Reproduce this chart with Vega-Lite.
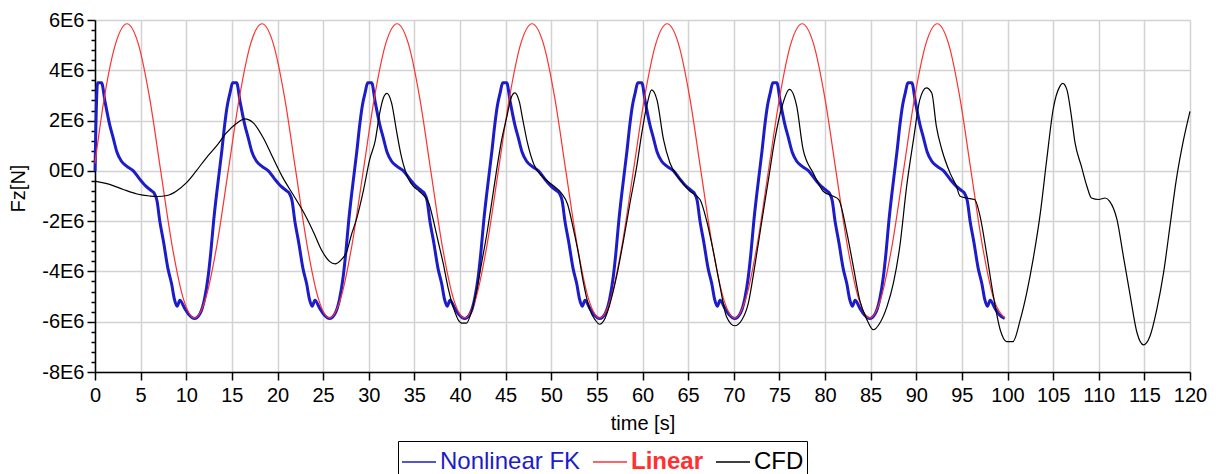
{
  "$schema": "https://vega.github.io/schema/vega-lite/v6.json",
  "autosize": {"type": "none"},
  "width": 1095,
  "height": 352,
  "padding": {"left": 95, "top": 20, "right": 28, "bottom": 102},
  "background": "white",
  "config": {
    "font": "Liberation Sans",
    "view": {"stroke": null},
    "axis": {"labelFont": "Liberation Sans", "titleFont": "Liberation Sans", "titleFontWeight": "normal", "labelColor": "#000", "titleColor": "#000"}
  },
  "data": {"values": [
    {"series":"Nonlinear FK","time":0,"Fz":0},{"series":"Nonlinear FK","time":0.28,"Fz":3500000},{"series":"Nonlinear FK","time":0.72,"Fz":3500000},{"series":"Nonlinear FK","time":1.1,"Fz":2750000},{"series":"Nonlinear FK","time":1.6,"Fz":1850000},{"series":"Nonlinear FK","time":2.0,"Fz":1300000},{"series":"Nonlinear FK","time":2.4,"Fz":750000},{"series":"Nonlinear FK","time":2.9,"Fz":380000},{"series":"Nonlinear FK","time":3.5,"Fz":180000},{"series":"Nonlinear FK","time":4.2,"Fz":0},{"series":"Nonlinear FK","time":4.9,"Fz":-330000},{"series":"Nonlinear FK","time":5.6,"Fz":-620000},{"series":"Nonlinear FK","time":6.2,"Fz":-800000},{"series":"Nonlinear FK","time":6.5,"Fz":-900000},{"series":"Nonlinear FK","time":6.8,"Fz":-1200000},{"series":"Nonlinear FK","time":7.1,"Fz":-2000000},{"series":"Nonlinear FK","time":7.5,"Fz":-2800000},{"series":"Nonlinear FK","time":8.0,"Fz":-3900000},{"series":"Nonlinear FK","time":8.4,"Fz":-4500000},{"series":"Nonlinear FK","time":8.7,"Fz":-5100000},{"series":"Nonlinear FK","time":9.0,"Fz":-5380000},{"series":"Nonlinear FK","time":9.3,"Fz":-5150000},{"series":"Nonlinear FK","time":9.8,"Fz":-5450000},{"series":"Nonlinear FK","time":10.3,"Fz":-5720000},{"series":"Nonlinear FK","time":10.9,"Fz":-5870000},{"series":"Nonlinear FK","time":11.5,"Fz":-5680000},{"series":"Nonlinear FK","time":12.0,"Fz":-5100000},{"series":"Nonlinear FK","time":12.4,"Fz":-4200000},{"series":"Nonlinear FK","time":12.7,"Fz":-3200000},{"series":"Nonlinear FK","time":13.0,"Fz":-2000000},{"series":"Nonlinear FK","time":13.3,"Fz":-1000000},{"series":"Nonlinear FK","time":13.6,"Fz":-100000},{"series":"Nonlinear FK","time":13.9,"Fz":800000},{"series":"Nonlinear FK","time":14.2,"Fz":1800000},{"series":"Nonlinear FK","time":14.5,"Fz":2600000},{"series":"Nonlinear FK","time":14.8,"Fz":3100000},
    {"series":"Nonlinear FK","time":15.08,"Fz":3500000},{"series":"Nonlinear FK","time":15.52,"Fz":3500000},{"series":"Nonlinear FK","time":15.9,"Fz":2750000},{"series":"Nonlinear FK","time":16.4,"Fz":1850000},{"series":"Nonlinear FK","time":16.8,"Fz":1300000},{"series":"Nonlinear FK","time":17.2,"Fz":750000},{"series":"Nonlinear FK","time":17.7,"Fz":380000},{"series":"Nonlinear FK","time":18.3,"Fz":180000},{"series":"Nonlinear FK","time":19.0,"Fz":0},{"series":"Nonlinear FK","time":19.7,"Fz":-330000},{"series":"Nonlinear FK","time":20.4,"Fz":-620000},{"series":"Nonlinear FK","time":21.0,"Fz":-800000},{"series":"Nonlinear FK","time":21.3,"Fz":-900000},{"series":"Nonlinear FK","time":21.6,"Fz":-1200000},{"series":"Nonlinear FK","time":21.9,"Fz":-2000000},{"series":"Nonlinear FK","time":22.3,"Fz":-2800000},{"series":"Nonlinear FK","time":22.8,"Fz":-3900000},{"series":"Nonlinear FK","time":23.2,"Fz":-4500000},{"series":"Nonlinear FK","time":23.5,"Fz":-5100000},{"series":"Nonlinear FK","time":23.8,"Fz":-5380000},{"series":"Nonlinear FK","time":24.1,"Fz":-5150000},{"series":"Nonlinear FK","time":24.6,"Fz":-5450000},{"series":"Nonlinear FK","time":25.1,"Fz":-5720000},{"series":"Nonlinear FK","time":25.7,"Fz":-5870000},{"series":"Nonlinear FK","time":26.3,"Fz":-5680000},{"series":"Nonlinear FK","time":26.8,"Fz":-5100000},{"series":"Nonlinear FK","time":27.2,"Fz":-4200000},{"series":"Nonlinear FK","time":27.5,"Fz":-3200000},{"series":"Nonlinear FK","time":27.8,"Fz":-2000000},{"series":"Nonlinear FK","time":28.1,"Fz":-1000000},{"series":"Nonlinear FK","time":28.4,"Fz":-100000},{"series":"Nonlinear FK","time":28.7,"Fz":800000},{"series":"Nonlinear FK","time":29.0,"Fz":1800000},{"series":"Nonlinear FK","time":29.3,"Fz":2600000},{"series":"Nonlinear FK","time":29.6,"Fz":3100000},
    {"series":"Nonlinear FK","time":29.88,"Fz":3500000},{"series":"Nonlinear FK","time":30.32,"Fz":3500000},{"series":"Nonlinear FK","time":30.7,"Fz":2750000},{"series":"Nonlinear FK","time":31.2,"Fz":1850000},{"series":"Nonlinear FK","time":31.6,"Fz":1300000},{"series":"Nonlinear FK","time":32.0,"Fz":750000},{"series":"Nonlinear FK","time":32.5,"Fz":380000},{"series":"Nonlinear FK","time":33.1,"Fz":180000},{"series":"Nonlinear FK","time":33.8,"Fz":0},{"series":"Nonlinear FK","time":34.5,"Fz":-330000},{"series":"Nonlinear FK","time":35.2,"Fz":-620000},{"series":"Nonlinear FK","time":35.8,"Fz":-800000},{"series":"Nonlinear FK","time":36.1,"Fz":-900000},{"series":"Nonlinear FK","time":36.4,"Fz":-1200000},{"series":"Nonlinear FK","time":36.7,"Fz":-2000000},{"series":"Nonlinear FK","time":37.1,"Fz":-2800000},{"series":"Nonlinear FK","time":37.6,"Fz":-3900000},{"series":"Nonlinear FK","time":38.0,"Fz":-4500000},{"series":"Nonlinear FK","time":38.3,"Fz":-5100000},{"series":"Nonlinear FK","time":38.6,"Fz":-5380000},{"series":"Nonlinear FK","time":38.9,"Fz":-5150000},{"series":"Nonlinear FK","time":39.4,"Fz":-5450000},{"series":"Nonlinear FK","time":39.9,"Fz":-5720000},{"series":"Nonlinear FK","time":40.5,"Fz":-5870000},{"series":"Nonlinear FK","time":41.1,"Fz":-5680000},{"series":"Nonlinear FK","time":41.6,"Fz":-5100000},{"series":"Nonlinear FK","time":42.0,"Fz":-4200000},{"series":"Nonlinear FK","time":42.3,"Fz":-3200000},{"series":"Nonlinear FK","time":42.6,"Fz":-2000000},{"series":"Nonlinear FK","time":42.9,"Fz":-1000000},{"series":"Nonlinear FK","time":43.2,"Fz":-100000},{"series":"Nonlinear FK","time":43.5,"Fz":800000},{"series":"Nonlinear FK","time":43.8,"Fz":1800000},{"series":"Nonlinear FK","time":44.1,"Fz":2600000},{"series":"Nonlinear FK","time":44.4,"Fz":3100000},
    {"series":"Nonlinear FK","time":44.68,"Fz":3500000},{"series":"Nonlinear FK","time":45.12,"Fz":3500000},{"series":"Nonlinear FK","time":45.5,"Fz":2750000},{"series":"Nonlinear FK","time":46.0,"Fz":1850000},{"series":"Nonlinear FK","time":46.4,"Fz":1300000},{"series":"Nonlinear FK","time":46.8,"Fz":750000},{"series":"Nonlinear FK","time":47.3,"Fz":380000},{"series":"Nonlinear FK","time":47.9,"Fz":180000},{"series":"Nonlinear FK","time":48.6,"Fz":0},{"series":"Nonlinear FK","time":49.3,"Fz":-330000},{"series":"Nonlinear FK","time":50.0,"Fz":-620000},{"series":"Nonlinear FK","time":50.6,"Fz":-800000},{"series":"Nonlinear FK","time":50.9,"Fz":-900000},{"series":"Nonlinear FK","time":51.2,"Fz":-1200000},{"series":"Nonlinear FK","time":51.5,"Fz":-2000000},{"series":"Nonlinear FK","time":51.9,"Fz":-2800000},{"series":"Nonlinear FK","time":52.4,"Fz":-3900000},{"series":"Nonlinear FK","time":52.8,"Fz":-4500000},{"series":"Nonlinear FK","time":53.1,"Fz":-5100000},{"series":"Nonlinear FK","time":53.4,"Fz":-5380000},{"series":"Nonlinear FK","time":53.7,"Fz":-5150000},{"series":"Nonlinear FK","time":54.2,"Fz":-5450000},{"series":"Nonlinear FK","time":54.7,"Fz":-5720000},{"series":"Nonlinear FK","time":55.3,"Fz":-5870000},{"series":"Nonlinear FK","time":55.9,"Fz":-5680000},{"series":"Nonlinear FK","time":56.4,"Fz":-5100000},{"series":"Nonlinear FK","time":56.8,"Fz":-4200000},{"series":"Nonlinear FK","time":57.1,"Fz":-3200000},{"series":"Nonlinear FK","time":57.4,"Fz":-2000000},{"series":"Nonlinear FK","time":57.7,"Fz":-1000000},{"series":"Nonlinear FK","time":58.0,"Fz":-100000},{"series":"Nonlinear FK","time":58.3,"Fz":800000},{"series":"Nonlinear FK","time":58.6,"Fz":1800000},{"series":"Nonlinear FK","time":58.9,"Fz":2600000},{"series":"Nonlinear FK","time":59.2,"Fz":3100000},
    {"series":"Nonlinear FK","time":59.48,"Fz":3500000},{"series":"Nonlinear FK","time":59.92,"Fz":3500000},{"series":"Nonlinear FK","time":60.3,"Fz":2750000},{"series":"Nonlinear FK","time":60.8,"Fz":1850000},{"series":"Nonlinear FK","time":61.2,"Fz":1300000},{"series":"Nonlinear FK","time":61.6,"Fz":750000},{"series":"Nonlinear FK","time":62.1,"Fz":380000},{"series":"Nonlinear FK","time":62.7,"Fz":180000},{"series":"Nonlinear FK","time":63.4,"Fz":0},{"series":"Nonlinear FK","time":64.1,"Fz":-330000},{"series":"Nonlinear FK","time":64.8,"Fz":-620000},{"series":"Nonlinear FK","time":65.4,"Fz":-800000},{"series":"Nonlinear FK","time":65.7,"Fz":-900000},{"series":"Nonlinear FK","time":66.0,"Fz":-1200000},{"series":"Nonlinear FK","time":66.3,"Fz":-2000000},{"series":"Nonlinear FK","time":66.7,"Fz":-2800000},{"series":"Nonlinear FK","time":67.2,"Fz":-3900000},{"series":"Nonlinear FK","time":67.6,"Fz":-4500000},{"series":"Nonlinear FK","time":67.9,"Fz":-5100000},{"series":"Nonlinear FK","time":68.2,"Fz":-5380000},{"series":"Nonlinear FK","time":68.5,"Fz":-5150000},{"series":"Nonlinear FK","time":69.0,"Fz":-5450000},{"series":"Nonlinear FK","time":69.5,"Fz":-5720000},{"series":"Nonlinear FK","time":70.1,"Fz":-5870000},{"series":"Nonlinear FK","time":70.7,"Fz":-5680000},{"series":"Nonlinear FK","time":71.2,"Fz":-5100000},{"series":"Nonlinear FK","time":71.6,"Fz":-4200000},{"series":"Nonlinear FK","time":71.9,"Fz":-3200000},{"series":"Nonlinear FK","time":72.2,"Fz":-2000000},{"series":"Nonlinear FK","time":72.5,"Fz":-1000000},{"series":"Nonlinear FK","time":72.8,"Fz":-100000},{"series":"Nonlinear FK","time":73.1,"Fz":800000},{"series":"Nonlinear FK","time":73.4,"Fz":1800000},{"series":"Nonlinear FK","time":73.7,"Fz":2600000},{"series":"Nonlinear FK","time":74.0,"Fz":3100000},
    {"series":"Nonlinear FK","time":74.28,"Fz":3500000},{"series":"Nonlinear FK","time":74.72,"Fz":3500000},{"series":"Nonlinear FK","time":75.1,"Fz":2750000},{"series":"Nonlinear FK","time":75.6,"Fz":1850000},{"series":"Nonlinear FK","time":76.0,"Fz":1300000},{"series":"Nonlinear FK","time":76.4,"Fz":750000},{"series":"Nonlinear FK","time":76.9,"Fz":380000},{"series":"Nonlinear FK","time":77.5,"Fz":180000},{"series":"Nonlinear FK","time":78.2,"Fz":0},{"series":"Nonlinear FK","time":78.9,"Fz":-330000},{"series":"Nonlinear FK","time":79.6,"Fz":-620000},{"series":"Nonlinear FK","time":80.2,"Fz":-800000},{"series":"Nonlinear FK","time":80.5,"Fz":-900000},{"series":"Nonlinear FK","time":80.8,"Fz":-1200000},{"series":"Nonlinear FK","time":81.1,"Fz":-2000000},{"series":"Nonlinear FK","time":81.5,"Fz":-2800000},{"series":"Nonlinear FK","time":82.0,"Fz":-3900000},{"series":"Nonlinear FK","time":82.4,"Fz":-4500000},{"series":"Nonlinear FK","time":82.7,"Fz":-5100000},{"series":"Nonlinear FK","time":83.0,"Fz":-5380000},{"series":"Nonlinear FK","time":83.3,"Fz":-5150000},{"series":"Nonlinear FK","time":83.8,"Fz":-5450000},{"series":"Nonlinear FK","time":84.3,"Fz":-5720000},{"series":"Nonlinear FK","time":84.9,"Fz":-5870000},{"series":"Nonlinear FK","time":85.5,"Fz":-5680000},{"series":"Nonlinear FK","time":86.0,"Fz":-5100000},{"series":"Nonlinear FK","time":86.4,"Fz":-4200000},{"series":"Nonlinear FK","time":86.7,"Fz":-3200000},{"series":"Nonlinear FK","time":87.0,"Fz":-2000000},{"series":"Nonlinear FK","time":87.3,"Fz":-1000000},{"series":"Nonlinear FK","time":87.6,"Fz":-100000},{"series":"Nonlinear FK","time":87.9,"Fz":800000},{"series":"Nonlinear FK","time":88.2,"Fz":1800000},{"series":"Nonlinear FK","time":88.5,"Fz":2600000},{"series":"Nonlinear FK","time":88.8,"Fz":3100000},
    {"series":"Nonlinear FK","time":89.08,"Fz":3500000},{"series":"Nonlinear FK","time":89.52,"Fz":3500000},{"series":"Nonlinear FK","time":89.9,"Fz":2750000},{"series":"Nonlinear FK","time":90.4,"Fz":1850000},{"series":"Nonlinear FK","time":90.8,"Fz":1300000},{"series":"Nonlinear FK","time":91.2,"Fz":750000},{"series":"Nonlinear FK","time":91.7,"Fz":380000},{"series":"Nonlinear FK","time":92.3,"Fz":180000},{"series":"Nonlinear FK","time":93.0,"Fz":0},{"series":"Nonlinear FK","time":93.7,"Fz":-330000},{"series":"Nonlinear FK","time":94.4,"Fz":-620000},{"series":"Nonlinear FK","time":95.0,"Fz":-800000},{"series":"Nonlinear FK","time":95.3,"Fz":-900000},{"series":"Nonlinear FK","time":95.6,"Fz":-1200000},{"series":"Nonlinear FK","time":95.9,"Fz":-2000000},{"series":"Nonlinear FK","time":96.3,"Fz":-2800000},{"series":"Nonlinear FK","time":96.8,"Fz":-3900000},{"series":"Nonlinear FK","time":97.2,"Fz":-4500000},{"series":"Nonlinear FK","time":97.5,"Fz":-5100000},{"series":"Nonlinear FK","time":97.8,"Fz":-5380000},{"series":"Nonlinear FK","time":98.1,"Fz":-5150000},{"series":"Nonlinear FK","time":98.6,"Fz":-5450000},{"series":"Nonlinear FK","time":99.1,"Fz":-5720000},{"series":"Nonlinear FK","time":99.7,"Fz":-5870000},
    {"series":"Linear","time":0,"Fz":300000},{"series":"Linear","time":1.03,"Fz":2930000},{"series":"Linear","time":2.27,"Fz":5070000},{"series":"Linear","time":3.5,"Fz":5850000},{"series":"Linear","time":4.73,"Fz":5070000},{"series":"Linear","time":5.97,"Fz":2930000},{"series":"Linear","time":7.2,"Fz":0},{"series":"Linear","time":8.43,"Fz":-2930000},{"series":"Linear","time":9.67,"Fz":-5070000},{"series":"Linear","time":10.9,"Fz":-5850000},{"series":"Linear","time":12.13,"Fz":-5070000},{"series":"Linear","time":13.37,"Fz":-2930000},
    {"series":"Linear","time":14.6,"Fz":0},{"series":"Linear","time":15.83,"Fz":2930000},{"series":"Linear","time":17.07,"Fz":5070000},{"series":"Linear","time":18.3,"Fz":5850000},{"series":"Linear","time":19.53,"Fz":5070000},{"series":"Linear","time":20.77,"Fz":2930000},{"series":"Linear","time":22.0,"Fz":0},{"series":"Linear","time":23.23,"Fz":-2930000},{"series":"Linear","time":24.47,"Fz":-5070000},{"series":"Linear","time":25.7,"Fz":-5850000},{"series":"Linear","time":26.93,"Fz":-5070000},{"series":"Linear","time":28.17,"Fz":-2930000},
    {"series":"Linear","time":29.4,"Fz":0},{"series":"Linear","time":30.63,"Fz":2930000},{"series":"Linear","time":31.87,"Fz":5070000},{"series":"Linear","time":33.1,"Fz":5850000},{"series":"Linear","time":34.33,"Fz":5070000},{"series":"Linear","time":35.57,"Fz":2930000},{"series":"Linear","time":36.8,"Fz":0},{"series":"Linear","time":38.03,"Fz":-2930000},{"series":"Linear","time":39.27,"Fz":-5070000},{"series":"Linear","time":40.5,"Fz":-5850000},{"series":"Linear","time":41.73,"Fz":-5070000},{"series":"Linear","time":42.97,"Fz":-2930000},
    {"series":"Linear","time":44.2,"Fz":0},{"series":"Linear","time":45.43,"Fz":2930000},{"series":"Linear","time":46.67,"Fz":5070000},{"series":"Linear","time":47.9,"Fz":5850000},{"series":"Linear","time":49.13,"Fz":5070000},{"series":"Linear","time":50.37,"Fz":2930000},{"series":"Linear","time":51.6,"Fz":0},{"series":"Linear","time":52.83,"Fz":-2930000},{"series":"Linear","time":54.07,"Fz":-5070000},{"series":"Linear","time":55.3,"Fz":-5850000},{"series":"Linear","time":56.53,"Fz":-5070000},{"series":"Linear","time":57.77,"Fz":-2930000},
    {"series":"Linear","time":59.0,"Fz":0},{"series":"Linear","time":60.23,"Fz":2930000},{"series":"Linear","time":61.47,"Fz":5070000},{"series":"Linear","time":62.7,"Fz":5850000},{"series":"Linear","time":63.93,"Fz":5070000},{"series":"Linear","time":65.17,"Fz":2930000},{"series":"Linear","time":66.4,"Fz":0},{"series":"Linear","time":67.63,"Fz":-2930000},{"series":"Linear","time":68.87,"Fz":-5070000},{"series":"Linear","time":70.1,"Fz":-5850000},{"series":"Linear","time":71.33,"Fz":-5070000},{"series":"Linear","time":72.57,"Fz":-2930000},
    {"series":"Linear","time":73.8,"Fz":0},{"series":"Linear","time":75.03,"Fz":2930000},{"series":"Linear","time":76.27,"Fz":5070000},{"series":"Linear","time":77.5,"Fz":5850000},{"series":"Linear","time":78.73,"Fz":5070000},{"series":"Linear","time":79.97,"Fz":2930000},{"series":"Linear","time":81.2,"Fz":0},{"series":"Linear","time":82.43,"Fz":-2930000},{"series":"Linear","time":83.67,"Fz":-5070000},{"series":"Linear","time":84.9,"Fz":-5850000},{"series":"Linear","time":86.13,"Fz":-5070000},{"series":"Linear","time":87.37,"Fz":-2930000},
    {"series":"Linear","time":88.6,"Fz":0},{"series":"Linear","time":89.83,"Fz":2930000},{"series":"Linear","time":91.07,"Fz":5070000},{"series":"Linear","time":92.3,"Fz":5850000},{"series":"Linear","time":93.53,"Fz":5070000},{"series":"Linear","time":94.77,"Fz":2930000},{"series":"Linear","time":96.0,"Fz":0},{"series":"Linear","time":97.23,"Fz":-2930000},{"series":"Linear","time":98.47,"Fz":-5070000},{"series":"Linear","time":99.7,"Fz":-5850000},
    {"series":"CFD","time":0,"Fz":-410000},{"series":"CFD","time":1.6,"Fz":-540000},{"series":"CFD","time":3.1,"Fz":-740000},{"series":"CFD","time":4.6,"Fz":-920000},{"series":"CFD","time":6.0,"Fz":-1000000},{"series":"CFD","time":6.8,"Fz":-1020000},{"series":"CFD","time":7.9,"Fz":-980000},{"series":"CFD","time":8.9,"Fz":-810000},{"series":"CFD","time":10.0,"Fz":-480000},{"series":"CFD","time":11.1,"Fz":0},{"series":"CFD","time":12.2,"Fz":520000},{"series":"CFD","time":13.3,"Fz":980000},{"series":"CFD","time":14.4,"Fz":1510000},{"series":"CFD","time":15.5,"Fz":1880000},{"series":"CFD","time":16.4,"Fz":2070000},{"series":"CFD","time":17.35,"Fz":1910000},{"series":"CFD","time":18.45,"Fz":1310000},{"series":"CFD","time":19.5,"Fz":520000},{"series":"CFD","time":20.6,"Fz":-280000},{"series":"CFD","time":21.7,"Fz":-940000},{"series":"CFD","time":22.8,"Fz":-1610000},{"series":"CFD","time":23.9,"Fz":-2400000},{"series":"CFD","time":24.9,"Fz":-3200000},{"series":"CFD","time":25.7,"Fz":-3600000},{"series":"CFD","time":26.3,"Fz":-3700000},{"series":"CFD","time":27.0,"Fz":-3530000},{"series":"CFD","time":27.6,"Fz":-3200000},{"series":"CFD","time":28.1,"Fz":-2540000},{"series":"CFD","time":28.7,"Fz":-1870000},{"series":"CFD","time":29.4,"Fz":-810000},{"series":"CFD","time":30.1,"Fz":450000},{"series":"CFD","time":30.7,"Fz":1180000},{"series":"CFD","time":31.2,"Fz":2300000},{"series":"CFD","time":31.6,"Fz":2900000},{"series":"CFD","time":32.0,"Fz":3080000},{"series":"CFD","time":32.5,"Fz":2700000},{"series":"CFD","time":33.06,"Fz":1550000},{"series":"CFD","time":33.5,"Fz":700000},{"series":"CFD","time":33.8,"Fz":250000},{"series":"CFD","time":34.3,"Fz":-280000},{"series":"CFD","time":34.9,"Fz":-620000},{"series":"CFD","time":35.5,"Fz":-800000},{"series":"CFD","time":36.0,"Fz":-970000},{"series":"CFD","time":36.6,"Fz":-1300000},{"series":"CFD","time":37.1,"Fz":-2000000},{"series":"CFD","time":37.6,"Fz":-2800000},{"series":"CFD","time":38.2,"Fz":-3750000},{"series":"CFD","time":38.7,"Fz":-4660000},{"series":"CFD","time":39.3,"Fz":-5460000},{"series":"CFD","time":39.8,"Fz":-5920000},{"series":"CFD","time":40.2,"Fz":-6060000},{"series":"CFD","time":40.7,"Fz":-6060000},{"series":"CFD","time":41.3,"Fz":-5550000},{"series":"CFD","time":41.8,"Fz":-4800000},{"series":"CFD","time":42.4,"Fz":-3600000},{"series":"CFD","time":42.9,"Fz":-2600000},{"series":"CFD","time":43.5,"Fz":-1200000},{"series":"CFD","time":44.0,"Fz":0},{"series":"CFD","time":44.6,"Fz":1300000},{"series":"CFD","time":45.1,"Fz":2100000},{"series":"CFD","time":45.6,"Fz":2900000},{"series":"CFD","time":46.0,"Fz":3100000},{"series":"CFD","time":46.5,"Fz":2750000},{"series":"CFD","time":46.9,"Fz":2000000},{"series":"CFD","time":47.4,"Fz":1100000},{"series":"CFD","time":48.1,"Fz":250000},{"series":"CFD","time":49.1,"Fz":-250000},{"series":"CFD","time":50.2,"Fz":-580000},{"series":"CFD","time":51.1,"Fz":-880000},{"series":"CFD","time":51.8,"Fz":-1340000},{"series":"CFD","time":52.4,"Fz":-2270000},{"series":"CFD","time":53.0,"Fz":-3330000},{"series":"CFD","time":53.5,"Fz":-4400000},{"series":"CFD","time":54.2,"Fz":-5500000},{"series":"CFD","time":54.8,"Fz":-5920000},{"series":"CFD","time":55.3,"Fz":-6100000},{"series":"CFD","time":55.9,"Fz":-5860000},{"series":"CFD","time":56.4,"Fz":-5330000},{"series":"CFD","time":57.2,"Fz":-4130000},{"series":"CFD","time":57.9,"Fz":-2800000},{"series":"CFD","time":58.6,"Fz":-1340000},{"series":"CFD","time":59.4,"Fz":250000},{"series":"CFD","time":59.9,"Fz":1450000},{"series":"CFD","time":60.5,"Fz":2640000},{"series":"CFD","time":61.0,"Fz":3220000},{"series":"CFD","time":61.6,"Fz":2800000},{"series":"CFD","time":62.3,"Fz":1250000},{"series":"CFD","time":63.0,"Fz":320000},{"series":"CFD","time":64.1,"Fz":-350000},{"series":"CFD","time":65.2,"Fz":-810000},{"series":"CFD","time":66.3,"Fz":-1140000},{"series":"CFD","time":67.0,"Fz":-1940000},{"series":"CFD","time":67.8,"Fz":-3270000},{"series":"CFD","time":68.5,"Fz":-4600000},{"series":"CFD","time":69.2,"Fz":-5790000},{"series":"CFD","time":70.1,"Fz":-6160000},{"series":"CFD","time":70.9,"Fz":-5920000},{"series":"CFD","time":71.6,"Fz":-5260000},{"series":"CFD","time":72.3,"Fz":-3800000},{"series":"CFD","time":73.1,"Fz":-1940000},{"series":"CFD","time":73.8,"Fz":-350000},{"series":"CFD","time":74.5,"Fz":1250000},{"series":"CFD","time":75.3,"Fz":2570000},{"series":"CFD","time":76.1,"Fz":3240000},{"series":"CFD","time":76.9,"Fz":2570000},{"series":"CFD","time":77.6,"Fz":850000},{"series":"CFD","time":78.7,"Fz":-80000},{"series":"CFD","time":79.8,"Fz":-810000},{"series":"CFD","time":80.9,"Fz":-1010000},{"series":"CFD","time":81.5,"Fz":-1140000},{"series":"CFD","time":82.4,"Fz":-2470000},{"series":"CFD","time":83.1,"Fz":-3800000},{"series":"CFD","time":83.8,"Fz":-5130000},{"series":"CFD","time":84.6,"Fz":-5920000},{"series":"CFD","time":85.3,"Fz":-6320000},{"series":"CFD","time":86.0,"Fz":-6060000},{"series":"CFD","time":86.8,"Fz":-5390000},{"series":"CFD","time":87.5,"Fz":-4460000},{"series":"CFD","time":88.2,"Fz":-3000000},{"series":"CFD","time":88.95,"Fz":-610000},{"series":"CFD","time":89.7,"Fz":1250000},{"series":"CFD","time":90.4,"Fz":2840000},{"series":"CFD","time":91.1,"Fz":3300000},{"series":"CFD","time":91.7,"Fz":3100000},{"series":"CFD","time":92.2,"Fz":1780000},{"series":"CFD","time":92.8,"Fz":850000},{"series":"CFD","time":93.7,"Fz":-80000},{"series":"CFD","time":94.4,"Fz":-610000},{"series":"CFD","time":94.8,"Fz":-1010000},{"series":"CFD","time":95.5,"Fz":-1080000},{"series":"CFD","time":96.4,"Fz":-1140000},{"series":"CFD","time":97.0,"Fz":-1810000},{"series":"CFD","time":97.7,"Fz":-3270000},{"series":"CFD","time":98.4,"Fz":-4860000},{"series":"CFD","time":99.2,"Fz":-6320000},{"series":"CFD","time":99.9,"Fz":-6790000},{"series":"CFD","time":100.6,"Fz":-6790000},{"series":"CFD","time":101.4,"Fz":-5920000},{"series":"CFD","time":102.1,"Fz":-4860000},{"series":"CFD","time":102.8,"Fz":-3530000},{"series":"CFD","time":103.6,"Fz":-1670000},{"series":"CFD","time":104.3,"Fz":450000},{"series":"CFD","time":105.0,"Fz":2440000},{"series":"CFD","time":105.75,"Fz":3370000},{"series":"CFD","time":106.05,"Fz":3480000},{"series":"CFD","time":106.5,"Fz":3240000},{"series":"CFD","time":107.0,"Fz":2180000},{"series":"CFD","time":107.4,"Fz":1120000},{"series":"CFD","time":108.1,"Fz":180000},{"series":"CFD","time":108.7,"Fz":-610000},{"series":"CFD","time":109.2,"Fz":-1080000},{"series":"CFD","time":110.0,"Fz":-1140000},{"series":"CFD","time":110.7,"Fz":-1080000},{"series":"CFD","time":111.2,"Fz":-1210000},{"series":"CFD","time":112.0,"Fz":-1940000},{"series":"CFD","time":112.7,"Fz":-3400000},{"series":"CFD","time":113.4,"Fz":-4860000},{"series":"CFD","time":114.2,"Fz":-6450000},{"series":"CFD","time":114.9,"Fz":-6920000},{"series":"CFD","time":115.6,"Fz":-6590000},{"series":"CFD","time":116.35,"Fz":-5530000},{"series":"CFD","time":117.1,"Fz":-4060000},{"series":"CFD","time":117.8,"Fz":-2210000},{"series":"CFD","time":118.5,"Fz":-350000},{"series":"CFD","time":119.3,"Fz":1250000},{"series":"CFD","time":120,"Fz":2370000}
  ]},
  "encoding": {
    "x": {"field": "time", "type": "quantitative",
      "scale": {"domain": [0, 120], "nice": false, "zero": false},
      "axis": {"title": "time [s]", "values": [0,5,10,15,20,25,30,35,40,45,50,55,60,65,70,75,80,85,90,95,100,105,110,115,120],
        "grid": true, "gridColor": "#d2d2d2", "gridWidth": 1.5, "domainColor": "#000", "domainWidth": 1.5, "tickColor": "#000", "tickWidth": 1.5, "tickSize": 8,
        "labelFontSize": 20, "labelPadding": 5, "titleFontSize": 20, "titlePadding": 8, "labelOverlap": false, "labelFlush": false}},
    "y": {"field": "Fz", "type": "quantitative",
      "scale": {"domain": [-8000000, 6000000], "nice": false, "zero": false},
      "axis": {"title": "Fz[N]",
        "values": [-8000000,-7600000,-7200000,-6800000,-6400000,-6000000,-5600000,-5200000,-4800000,-4400000,-4000000,-3600000,-3200000,-2800000,-2400000,-2000000,-1600000,-1200000,-800000,-400000,0,400000,800000,1200000,1600000,2000000,2400000,2800000,3200000,3600000,4000000,4400000,4800000,5200000,5600000,6000000],
        "labelExpr": "datum.value % 2000000 === 0 ? (datum.value === 0 ? '0E0' : (datum.value / 1000000) + 'E6') : ''",
        "grid": true, "gridColor": "#d2d2d2", "gridWidth": 1.5,
        "gridOpacity": {"condition": {"test": "datum.value % 2000000 === 0", "value": 1}, "value": 0},
        "tickSize": {"condition": {"test": "datum.value % 2000000 === 0", "value": 8}, "value": 4},
        "domainColor": "#000", "domainWidth": 1.5, "tickColor": "#000", "tickWidth": 1.5,
        "labelFontSize": 20, "labelPadding": 3, "titleFontSize": 20, "titlePadding": 13, "titleY": 168, "labelOverlap": false, "labelFlush": false}},
    "color": {"field": "series", "type": "nominal",
      "scale": {"domain": ["Nonlinear FK", "Linear", "CFD"], "range": ["#1c1cc8", "#ff3030", "#000000"]},
      "legend": {"title": null, "orient": "none", "legendX": 303, "legendY": 421, "direction": "horizontal",
        "strokeColor": "#000", "padding": 3, "symbolType": "stroke", "symbolSize": 1156, "symbolStrokeWidth": 1.5,
        "labelFontSize": 24, "labelFont": "Liberation Sans", "labelOffset": 3, "columnPadding": 9, "labelLimit": 400,
        "encode": {"labels": {"update": {"fill": {"scale": "color", "field": "value"}, "fontWeight": {"signal": "datum.value === 'Linear' ? 'bold' : 'normal'"}}}}}}
  },
  "layer": [
    {"transform": [{"filter": "datum.series === 'Nonlinear FK'"}], "mark": {"type": "line", "strokeWidth": 3, "interpolate": "monotone"}},
    {"transform": [{"filter": "datum.series === 'Linear'"}], "mark": {"type": "line", "strokeWidth": 1.2, "interpolate": "monotone"}},
    {"transform": [{"filter": "datum.series === 'CFD'"}], "mark": {"type": "line", "strokeWidth": 1.2, "interpolate": "monotone"}}
  ]
}
